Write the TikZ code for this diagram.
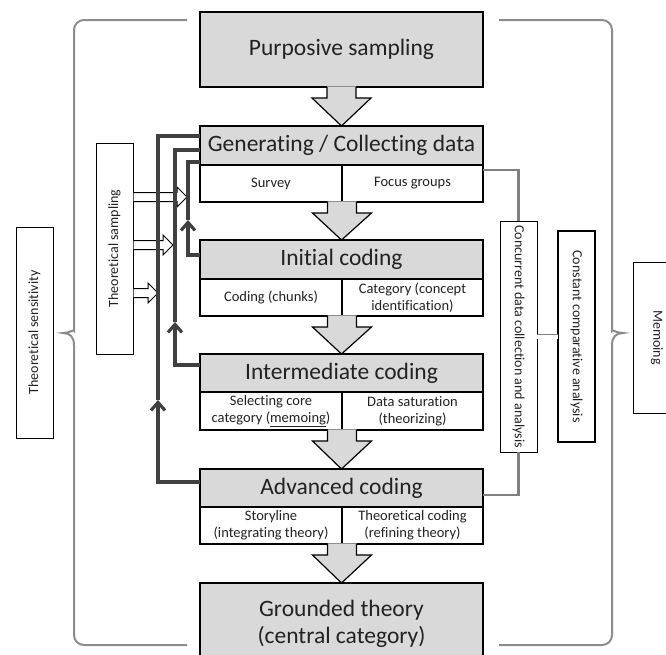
\documentclass[tikz,border=0pt]{standalone}
\usepackage{fontspec}
\setmainfont{Carlito}[RawFeature={-liga;-clig;-calt;-dlig}]
\usetikzlibrary{arrows.meta,calc}
\definecolor{boxgrey}{HTML}{D9D9D9}
\definecolor{conngrey}{HTML}{808080}
\definecolor{darkline}{HTML}{404040}
\definecolor{bracegrey}{HTML}{8C8C8C}
\definecolor{txt}{HTML}{222222}
\newcommand\flowarrow[2]{%
 \fill[boxgrey] ($(#1)+(-14.5,-0.6)$) -- ($(#1)+(-14.5,11)$) -- ($(#1)+(-29.5,11)$) -- (#2) -- ($(#1)+(29.5,11)$) -- ($(#1)+(14.5,11)$) -- ($(#1)+(14.5,-0.6)$) -- cycle;
 \draw[flowedge] ($(#1)+(-14.5,0)$) -- ($(#1)+(-14.5,11)$) -- ($(#1)+(-29.5,11)$) -- (#2) -- ($(#1)+(29.5,11)$) -- ($(#1)+(14.5,11)$) -- ($(#1)+(14.5,0)$);}
\newcommand\hollowarrow[3]{%
 \filldraw[harrow] ($(#1)+(0.5,#2-4.5)$) -- ($(#1)+(#3-10,#2-4.5)$) -- ($(#1)+(#3-10,#2-10)$) -- ($(#1)+(#3,#2)$) -- ($(#1)+(#3-10,#2+10)$) -- ($(#1)+(#3-10,#2+4.5)$) -- ($(#1)+(0.5,#2+4.5)$);}
\begin{document}
\begin{tikzpicture}[x=1pt,y=-1pt,
 hdr/.style={draw=black, line width=1.2pt, fill=boxgrey, minimum width=283pt, inner sep=0pt, outer sep=0pt, align=center, font=\fontsize{23.5}{27}\selectfont, text=txt},
 sub/.style={draw=black, line width=1.2pt, fill=white, inner sep=0pt, outer sep=0pt, align=center, font=\fontsize{14.5}{17}\selectfont, text=txt},
 vbox/.style={draw=black, line width=1pt, fill=white, inner sep=0pt, outer sep=0pt, minimum width=37pt, font=\fontsize{14}{17}\selectfont, text=txt},
 flowedge/.style={draw=black, line width=1.2pt, line join=miter},
 harrow/.style={draw=black, line width=1pt, fill=white, line join=miter},
 fb/.style={draw=darkline, line width=3.2pt},
 fbtip/.style={fb, -{Straight Barb[length=8pt,width=14pt]}},
 conn/.style={draw=conngrey, line width=2.4pt},
 brace/.style={draw=bracegrey, line width=2pt}
]
\useasboundingbox (0,0) rectangle (666,654);
\clip (0,0) rectangle (666,654);

% braces
\draw[brace] (187,20) [rounded corners=10pt] -- (74,20) -- (74,321) [sharp corners]
  .. controls (74,329) and (70,333) .. (63,333) .. controls (70,333) and (74,337) .. (74,345)
  [rounded corners=10pt] -- (74,645) -- (187,645);
\draw[brace] (499,20) [rounded corners=10pt] -- (612,20) -- (612,321) [sharp corners]
  .. controls (612,329) and (616,333) .. (623,333) .. controls (616,333) and (612,337) .. (612,345)
  [rounded corners=10pt] -- (612,645) -- (499,645);

% main column
\node[hdr, minimum height=75pt] (ps) at (341.5,49.5) {Purposive sampling};
\node[hdr, minimum height=39pt] (gh) at (341.5,145.5) {Generating / Collecting data};
\node[sub, minimum width=142pt, minimum height=37pt] (gs1) at (271,183.5) {Survey};
\node[sub, minimum width=141pt, minimum height=37pt] (gs2) at (412.5,183.5) {Focus groups};
\node[hdr, minimum height=39pt] (ih) at (341.5,259.5) {Initial coding};
\node[sub, minimum width=142pt, minimum height=37pt] (is1) at (271,297.5) {Coding (chunks)};
\node[sub, minimum width=141pt, minimum height=37pt] (is2) at (412.5,297.5) {Category (concept\\identification)};
\node[hdr, minimum height=38pt] (mh) at (341.5,373) {Intermediate coding};
\node[sub, minimum width=142pt, minimum height=38pt] (ms1) at (271,411) {Selecting core\\category (\underline{memoing})};
\node[sub, minimum width=141pt, minimum height=38pt] (ms2) at (412.5,411) {Data saturation\\(theorizing)};
\node[hdr, minimum height=38pt] (ah) at (341.5,488) {Advanced coding};
\node[sub, minimum width=142pt, minimum height=37pt] (as1) at (271,525.5) {Storyline\\(integrating theory)};
\node[sub, minimum width=141pt, minimum height=37pt] (as2) at (412.5,525.5) {Theoretical coding\\(refining theory)};
\node[hdr, minimum height=81pt] (gt) at (341.5,623.5) {Grounded theory\\(central category)};

\flowarrow{ps.south}{gh.north}
\flowarrow{gs1.south east}{ih.north}
\flowarrow{is1.south east}{mh.north}
\flowarrow{ms1.south east}{ah.north}
\flowarrow{as1.south east}{gt.north}

% side boxes
\node[vbox, minimum height=211pt] (ts) at (114.5,248.5) {\rotatebox{90}{Theoretical sampling}};
\node[vbox, minimum height=211pt] (sens) at (34.5,332.5) {\rotatebox{90}{Theoretical sensitivity}};
\node[vbox, minimum height=231pt] (cd) at (518.5,336.5) {\rotatebox{-90}{Concurrent data collection and analysis}};
\node[vbox, line width=2pt, minimum height=211pt] (cc) at (576.5,336.5) {\rotatebox{-90}{Constant comparative analysis}};
\node[vbox, minimum width=48pt, minimum height=151pt] (memo) at (657,337.5) {\rotatebox{-90}{Memoing}};

% hollow arrows from theoretical sampling
\hollowarrow{ts.east}{-51.5}{54}
\hollowarrow{ts.east}{-3.5}{40}
\hollowarrow{ts.east}{44.5}{25}

% feedback lines
\draw[fbtip] ($(ah.north west)+(0,13)$) -- ++(-42,0) -- ++(0,-82) coordinate (f1m);
\draw[fb] (f1m) |- ($(gh.north west)+(0,10)$);
\draw[fbtip] ($(mh.north west)+(0,11)$) -- ++(-25,0) -- ++(0,-43) coordinate (f2m);
\draw[fb] (f2m) |- ($(gh.north west)+(0,24)$);
\draw[fbtip] ($(ih.north west)+(0,15)$) -- ++(-12,0) -- ++(0,-35) coordinate (f3m);
\draw[fb] (f3m) |- ($(gh.north west)+(0,36)$);

% grey connectors
\draw[conn] ($(gh.south east)+(0,5)$) -| (cd.north);
\draw[conn] (cd.south) |- ($(ah.north east)+(0,26)$);
\draw[draw=conngrey, line width=0.8pt, double=white, double distance=4pt] (cd.east) -- (cc.west);
\end{tikzpicture}
\end{document}
